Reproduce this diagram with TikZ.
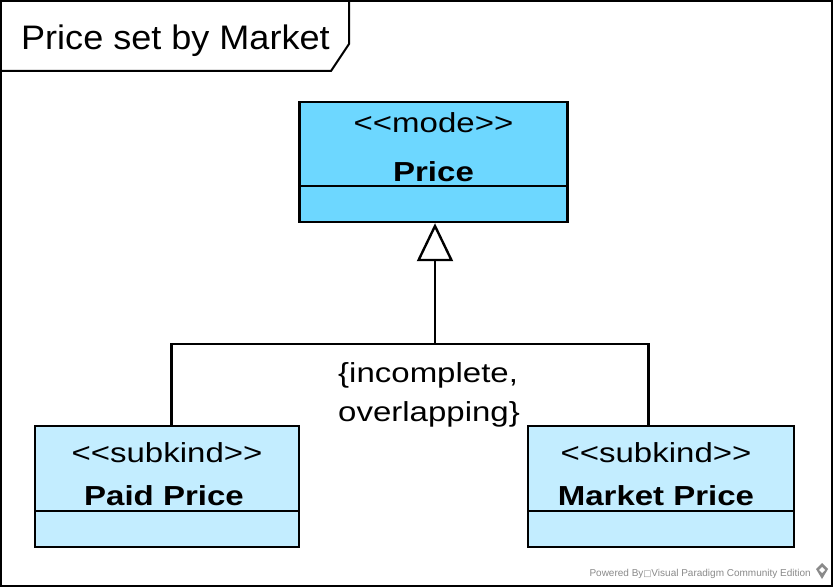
\documentclass[tikz,border=0pt]{standalone}
\usepackage{fontspec}
\setmainfont{Liberation Sans}
\newfontfamily\vpfont[FakeStretch=1.2]{Liberation Sans}
\newfontfamily\titlefont[FakeStretch=1.06]{Liberation Sans}
\newfontfamily\djv{DejaVu Sans}
\usetikzlibrary{arrows.meta}
\definecolor{modefill}{HTML}{6DD7FF}
\definecolor{subfill}{HTML}{C3EDFF}
\definecolor{wmgray}{HTML}{8A8A8A}
\begin{document}
\begin{tikzpicture}[x=1pt,y=-1pt,
  frameline/.style={draw=black,line width=2pt},
  classbox/.style={draw=black,line width=2.4pt,rectangle,inner sep=0pt},
  boxtext/.style={anchor=base,inner sep=0pt,font=\vpfont\fontsize{27.5}{30}\selectfont},
  boldtext/.style={anchor=base,inner sep=0pt,font=\vpfont\bfseries\fontsize{27.5}{30}\selectfont},
  conn/.style={draw=black,line width=2.4pt},
  gen/.style={conn,-{Triangle[open,length=38pt,width=36pt,line width=2.4pt]}}
]
\useasboundingbox (0,0) rectangle (834,588);
\fill[white] (0,0) rectangle (834,588);
% frame
\draw[frameline] (1,1) rectangle (832,586);
\draw[frameline] (1,1) -- (349,1) -- (349,44) -- (331,71) -- (1,71);
\node[anchor=base west,inner sep=0pt,font=\titlefont\fontsize{34}{36}\selectfont] (title) at (21,50) {Price set by Market};

% classes
\node[classbox,fill=modefill,minimum width=268pt,minimum height=120pt] (price) at (433.5,162) {};
\draw[line width=2.4pt] (299.5,186) -- (567.5,186);
\node[boxtext] (pricest) at (433.5,133) {<<mode>>};
\node[boldtext] (pricenm) at (433.5,181) {Price};

\node[classbox,fill=subfill,minimum width=264pt,minimum height=121pt] (pp) at (167,486.5) {};
\draw[line width=2.4pt] (35,511) -- (299,511);
\node[boxtext] (ppst) at (167,462) {<<subkind>>};
\node[boldtext] (ppnm) at (164,505) {Paid Price};

\node[classbox,fill=subfill,minimum width=266pt,minimum height=121pt] (mp) at (661,486.5) {};
\draw[line width=2.4pt] (528,511) -- (794,511);
\node[boxtext] (mpst) at (656,462) {<<subkind>>};
\node[boldtext] (mpnm) at (656,505) {Market Price};

% generalization set
\coordinate (j) at (435,344);
\coordinate (jl) at (171.5,344);
\coordinate (jr) at (648.5,344);
\draw[conn] (jl |- pp.north) -- (jl) -- (jr) -- (jr |- mp.north);
\draw[gen] (j) -- (j |- price.south);
\node[boxtext,anchor=base west] (gs1) at (338,382) {\{incomplete,};
\node[boxtext,anchor=base west] (gs2) at (338,421.5) {overlapping\}};

% watermark
\node[anchor=base east,inner sep=0pt,text=wmgray,font=\fontsize{10}{11}\selectfont] (wm) at (811,576) {Powered By{\djv\fontsize{8.5}{10}\selectfont □}Visual Paradigm Community Edition};
\fill[wmgray] (822,563) -- (828,569) -- (822,579) -- (816,569) -- cycle;
\fill[white] (822,567) -- (825,570) -- (822,573) -- (819,570) -- cycle;
\end{tikzpicture}
\end{document}
